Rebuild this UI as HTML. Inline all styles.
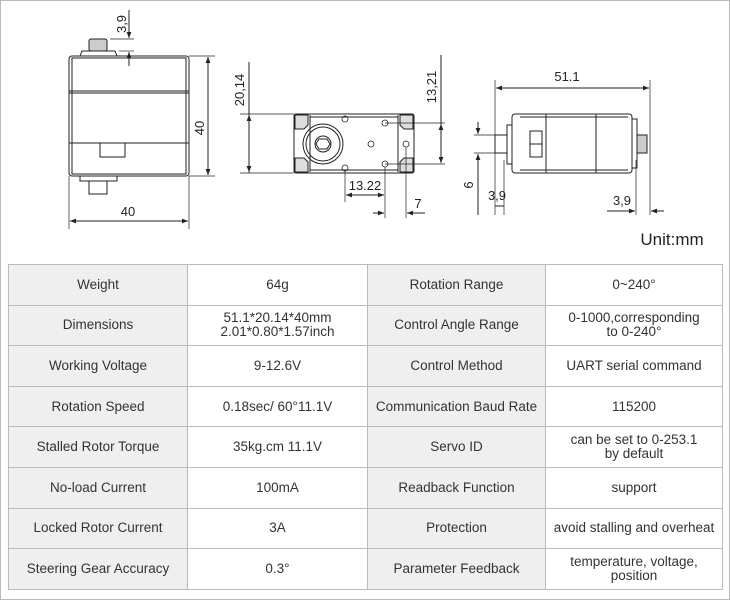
<!DOCTYPE html>
<html><head><meta charset="utf-8"><style>
html,body{margin:0;padding:0;background:#fff;}
body{width:730px;height:600px;position:relative;overflow:hidden;font-family:"Liberation Sans",sans-serif;}
.frame{position:absolute;left:0;top:0;width:728px;height:598px;border:1px solid #bbb;}
svg{position:absolute;left:0;top:0;}
table{position:absolute;left:8px;top:264px;border-collapse:collapse;font-size:13.5px;color:#333;}
td{border:1px solid #bbb;text-align:center;padding:0;line-height:14px;height:39.6px;}
td.l{background:#efefef;}
</style></head><body>
<div class="frame"></div>
<svg width="730" height="260" viewBox="0 0 730 260" stroke="#222" fill="none" stroke-width="1" font-family="Liberation Sans, sans-serif">
<defs><marker id="a" viewBox="0 0 10 10" refX="10" refY="5" markerWidth="8" markerHeight="6" orient="auto-start-reverse"><path d="M0,1 L10,5 L0,9z" fill="#222" stroke="none"/></marker></defs>
<rect x="69" y="56" width="120" height="120" rx="3"/>
<rect x="72" y="58" width="114" height="116"/>
<line x1="69" y1="93" x2="189" y2="93"/><line x1="69" y1="91" x2="189" y2="91"/>
<line x1="69" y1="143" x2="189" y2="143"/>
<rect x="100" y="143" width="25" height="14"/>
<path d="M80,56 L82,51 L115,51 L117,56"/>
<rect x="89" y="39" width="18" height="12" rx="2" fill="#ccc"/>
<path d="M80,176 L80,181 L117,181 L117,176"/>
<rect x="89" y="181" width="18" height="13"/>
<line x1="189" y1="56" x2="215" y2="56" stroke-width=".7"/><line x1="189" y1="176" x2="215" y2="176" stroke-width=".7"/>
<line x1="208" y1="57" x2="208" y2="175" marker-start="url(#a)" marker-end="url(#a)"/>
<line x1="69" y1="176" x2="69" y2="229" stroke-width=".7"/><line x1="189" y1="176" x2="189" y2="229" stroke-width=".7"/>
<line x1="70" y1="221" x2="188" y2="221" marker-start="url(#a)" marker-end="url(#a)"/>
<line x1="129" y1="10" x2="129" y2="38" marker-end="url(#a)"/>
<line x1="129" y1="66" x2="129" y2="52" marker-end="url(#a)"/>
<line x1="110" y1="39" x2="134" y2="39" stroke-width=".7"/><line x1="119" y1="51" x2="134" y2="51" stroke-width=".7"/>
<rect x="294" y="114" width="120" height="59" rx="2"/>
<line x1="310" y1="115" x2="310" y2="172"/><line x1="398" y1="115" x2="398" y2="172"/>
<line x1="310" y1="117" x2="398" y2="117"/><line x1="310" y1="170" x2="398" y2="170"/>
<path d="M295,115 h13 v10 l-4,4 h-9z M413,115 h-13 v10 l4,4 h9z M295,172 h13 v-10 l-4,-4 h-9z M413,172 h-13 v-10 l4,-4 h9z" fill="#ddd"/>
<circle cx="323" cy="144" r="20"/><circle cx="323" cy="144" r="17"/>
<circle cx="323" cy="144" r="8"/><path d="M319,139 h8 l3,5 -3,5 h-8 l-3,-5z"/>
<g stroke-width=".8"><circle cx="345" cy="119" r="3"/><circle cx="385" cy="123" r="3"/><circle cx="406" cy="144" r="3"/><circle cx="385" cy="164" r="3"/><circle cx="345" cy="168" r="3"/><circle cx="371" cy="144" r="3"/></g>
<line x1="240" y1="114" x2="294" y2="114" stroke-width=".7"/><line x1="240" y1="173" x2="294" y2="173" stroke-width=".7"/>
<line x1="249" y1="62" x2="249" y2="173"/>
<line x1="249" y1="130" x2="249" y2="115" marker-end="url(#a)"/><line x1="249" y1="158" x2="249" y2="172" marker-end="url(#a)"/>
<line x1="385" y1="123" x2="445" y2="123" stroke-width=".7"/><line x1="385" y1="164" x2="445" y2="164" stroke-width=".7"/>
<line x1="441" y1="55" x2="441" y2="163"/>
<line x1="441" y1="138" x2="441" y2="124" marker-end="url(#a)"/><line x1="441" y1="150" x2="441" y2="163" marker-end="url(#a)"/>
<line x1="345" y1="170" x2="345" y2="202" stroke-width=".7"/><line x1="385" y1="167" x2="385" y2="218" stroke-width=".7"/><line x1="406" y1="147" x2="406" y2="218" stroke-width=".7"/>
<line x1="346" y1="195" x2="384" y2="195" marker-start="url(#a)" marker-end="url(#a)"/>
<line x1="373" y1="213" x2="384" y2="213" marker-end="url(#a)"/><line x1="425" y1="213" x2="407" y2="213" marker-end="url(#a)"/>
<rect x="512" y="114" width="120" height="59" rx="3"/>
<line x1="546" y1="114" x2="546" y2="173"/><line x1="596" y1="114" x2="596" y2="173"/>
<line x1="520" y1="117" x2="628" y2="117"/><line x1="520" y1="170" x2="628" y2="170"/>
<rect x="507" y="125" width="5" height="39"/><rect x="632" y="119" width="5" height="49"/>
<rect x="495" y="135" width="12" height="18"/>
<rect x="637" y="135" width="10" height="18" fill="#ccc"/>
<rect x="530" y="131" width="12" height="26"/><line x1="530" y1="144" x2="542" y2="144"/>
<line x1="495" y1="80" x2="495" y2="215" stroke-width=".7"/><line x1="650" y1="80" x2="650" y2="215" stroke-width=".7"/>
<line x1="496" y1="88" x2="649" y2="88" marker-start="url(#a)" marker-end="url(#a)"/>
<line x1="474" y1="135" x2="495" y2="135" stroke-width=".7"/><line x1="474" y1="153" x2="495" y2="153" stroke-width=".7"/>
<line x1="478" y1="122" x2="478" y2="134" marker-end="url(#a)"/><line x1="478" y1="215" x2="478" y2="154" marker-end="url(#a)"/>
<line x1="504" y1="160" x2="504" y2="215" stroke-width=".7"/>
<line x1="495" y1="206" x2="504" y2="206"/>
<line x1="636" y1="160" x2="636" y2="215" stroke-width=".7"/>
<line x1="607" y1="211" x2="635" y2="211" marker-end="url(#a)"/><line x1="664" y1="211" x2="651" y2="211" marker-end="url(#a)"/>
<g fill="#222" stroke="none" font-size="13">
<text x="128" y="216" text-anchor="middle">40</text>
<text transform="translate(204,128) rotate(-90)" text-anchor="middle">40</text>
<text transform="translate(126,24) rotate(-90)" text-anchor="middle">3,9</text>
<text transform="translate(244,90) rotate(-90)" text-anchor="middle">20,14</text>
<text transform="translate(436,87) rotate(-90)" text-anchor="middle">13,21</text>
<text x="365" y="190" text-anchor="middle">13.22</text>
<text x="418" y="208" text-anchor="middle">7</text>
<text x="567" y="81" text-anchor="middle">51.1</text>
<text transform="translate(473,185) rotate(-90)" text-anchor="middle">6</text>
<text x="497" y="200" text-anchor="middle">3,9</text>
<text x="622" y="205" text-anchor="middle">3,9</text>
<text x="672" y="245" text-anchor="middle" font-size="17">Unit:mm</text>
</g>
</svg>
<table>
<colgroup><col style="width:179px"><col style="width:180px"><col style="width:178px"><col style="width:177px"></colgroup>
<tr><td class="l">Weight</td><td>64g</td><td class="l">Rotation Range</td><td>0~240°</td></tr>
<tr><td class="l">Dimensions</td><td>51.1*20.14*40mm<br>2.01*0.80*1.57inch</td><td class="l">Control Angle Range</td><td>0-1000,corresponding<br>to 0-240°</td></tr>
<tr><td class="l">Working Voltage</td><td>9-12.6V</td><td class="l">Control Method</td><td>UART serial command</td></tr>
<tr><td class="l">Rotation Speed</td><td>0.18sec/ 60°11.1V</td><td class="l">Communication Baud Rate</td><td>115200</td></tr>
<tr><td class="l">Stalled Rotor Torque</td><td>35kg.cm 11.1V</td><td class="l">Servo ID</td><td>can be set to 0-253.1<br>by default</td></tr>
<tr><td class="l">No-load Current</td><td>100mA</td><td class="l">Readback Function</td><td>support</td></tr>
<tr><td class="l">Locked Rotor Current</td><td>3A</td><td class="l">Protection</td><td>avoid stalling and overheat</td></tr>
<tr><td class="l">Steering Gear Accuracy</td><td>0.3°</td><td class="l">Parameter Feedback</td><td>temperature, voltage,<br>position</td></tr>
</table>
</body></html>
